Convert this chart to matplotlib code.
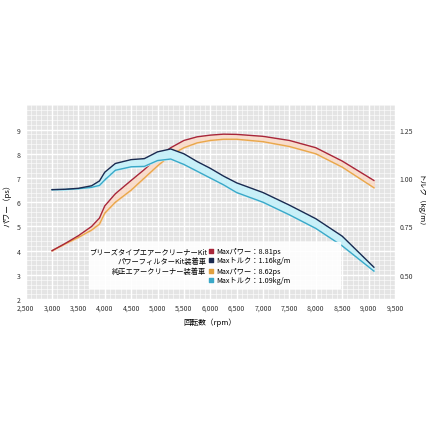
import matplotlib
matplotlib.use("Agg")
import matplotlib.pyplot as plt
from matplotlib.ticker import MultipleLocator, FuncFormatter
from matplotlib.patches import Rectangle

plt.rcParams['font.family'] = ['Noto Sans CJK JP', 'DejaVu Sans']

rpm = [3000, 3250, 3500, 3750, 3900, 4000, 4200, 4500, 4750, 5000, 5250, 5500, 5750, 6000, 6250, 6500, 7000, 7500, 8000, 8500, 9100]
power_kit = [4.0, 4.3, 4.62, 5.0, 5.35, 5.85, 6.35, 6.9, 7.35, 7.85, 8.25, 8.55, 8.7, 8.77, 8.81, 8.8, 8.72, 8.55, 8.25, 7.7, 6.9]
power_std = [4.0, 4.28, 4.55, 4.85, 5.1, 5.55, 6.0, 6.5, 7.0, 7.5, 7.95, 8.25, 8.45, 8.55, 8.6, 8.6, 8.5, 8.3, 8.0, 7.45, 6.6]
torque_kit = [0.94, 0.942, 0.947, 0.96, 0.985, 1.03, 1.075, 1.095, 1.10, 1.135, 1.15, 1.125, 1.085, 1.05, 1.01, 0.975, 0.925, 0.86, 0.79, 0.7, 0.54]
torque_std = [0.94, 0.941, 0.945, 0.952, 0.962, 0.99, 1.04, 1.058, 1.06, 1.09, 1.098, 1.07, 1.035, 1.0, 0.965, 0.925, 0.875, 0.81, 0.74, 0.65, 0.52]

fig = plt.figure(figsize=(4.27, 4.27), dpi=100)
ax = fig.add_axes([0.06, 0.297, 0.865, 0.454])
ax.set_facecolor('#e4e4e4')
ax.set_xlim(2500, 9500)
ax.set_ylim(2, 10)
ax.xaxis.set_major_locator(MultipleLocator(500))
ax.xaxis.set_minor_locator(MultipleLocator(100))
ax.yaxis.set_major_locator(MultipleLocator(1))
ax.yaxis.set_minor_locator(MultipleLocator(0.2))
ax.grid(which='major', color='white', lw=1.0)
ax.grid(which='minor', color='white', lw=0.4)
ax.set_axisbelow(True)
for s in ax.spines.values():
    s.set_visible(False)
ax.tick_params(which='both', length=0, labelsize=5, colors='#333333')
ax.xaxis.set_major_formatter(FuncFormatter(lambda v, p: f"{int(v):,}"))
ax.set_yticks(range(2, 10))
ax.set_xlabel('回転数（rpm）', fontsize=5.5)
ax.set_ylabel('パワー（ps）', fontsize=5.5)

ax2 = ax.twinx()
ax2.set_ylim(0.375, 1.375)
ax2.set_yticks([0.5, 0.75, 1.0, 1.25])
ax2.yaxis.set_major_formatter(FuncFormatter(lambda v, p: f"{v:.2f}"))
ax2.tick_params(length=0, labelsize=5, colors='#333333')
for s in ax2.spines.values():
    s.set_visible(False)
ax2.set_ylabel('トルク（kg/m）', fontsize=5.5, rotation=270, labelpad=8)

ax.fill_between(rpm, power_std, power_kit, color='#f8dccc')
ax2.fill_between(rpm, torque_std, torque_kit, color='#c8f0f8')
ax.plot(rpm, power_std, color='#e8a84a', lw=1.0)
ax.plot(rpm, power_kit, color='#a8263a', lw=1.0)
ax2.plot(rpm, torque_std, color='#3aa8c8', lw=1.0)
ax2.plot(rpm, torque_kit, color='#1a2a50', lw=1.0)

# legend box on top
ax3 = fig.add_axes(ax.get_position(), sharex=ax, sharey=ax, frameon=False)
ax3.axis('off')
ax3.add_patch(Rectangle((3700, 2.45), 4750, 1.9, color='white', alpha=0.9, zorder=3))
fs = 5.2
ax3.text(5930, 3.97, 'ブリーズタイプエアークリーナーKit', ha='right', va='center', fontsize=fs, zorder=6)
ax3.text(5930, 3.6, 'パワーフィルターKit装着車', ha='right', va='center', fontsize=fs, zorder=6)
ax3.text(5930, 3.15, '純正エアークリーナー装着車', ha='right', va='center', fontsize=fs, zorder=6)
items = [(3.97, '#a8263a', 'Maxパワー：8.81ps'), (3.6, '#1a2a50', 'Maxトルク：1.16kg/m'),
         (3.15, '#e0a040', 'Maxパワー：8.62ps'), (2.8, '#3aa8c8', 'Maxトルク：1.09kg/m')]
for y, c, t in items:
    ax3.scatter([6010], [y], marker='s', s=12, color=c, zorder=6)
    ax3.text(6110, y, t, va='center', fontsize=fs, zorder=6)

fig.savefig('out.png', dpi=100, facecolor='white')
